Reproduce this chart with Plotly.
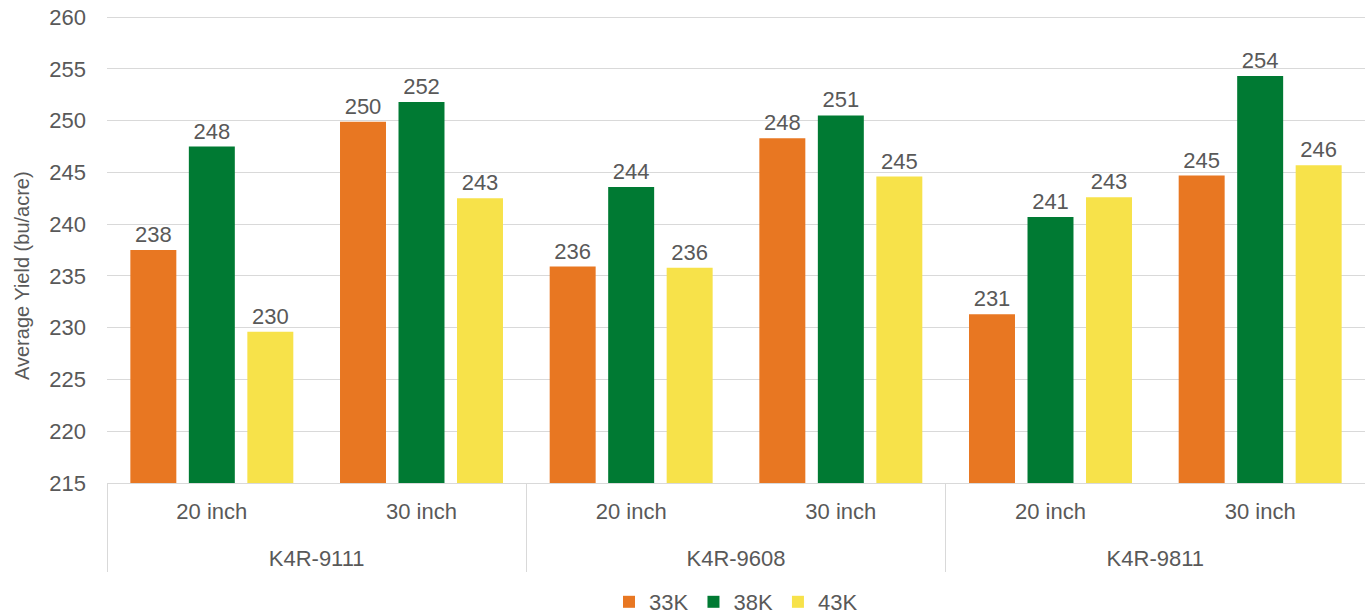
import plotly.graph_objects as go

hybrids = ["K4R-9111", "K4R-9111", "K4R-9608", "K4R-9608", "K4R-9811", "K4R-9811"]
spacing = ["20 inch", "30 inch", "20 inch", "30 inch", "20 inch", "30 inch"]
series_names = ["33K", "38K", "43K"]
y33 = [237.5, 249.9, 235.9, 248.3, 231.3, 244.7]
y38 = [247.5, 251.8, 243.6, 250.5, 240.7, 254.3]
y43 = [229.6, 242.5, 235.8, 244.6, 242.6, 245.7]
colors = ["#E87722", "#007A33", "#F7E24A"]

FS = 22
W, H = 1365, 615
# trailing blank line on the inner labels gives the outer level more room
spacing_lbl = [s + "<br> " for s in spacing]

fig = go.Figure()
for name, vals, col in zip(series_names, [y33, y38, y43], colors):
    fig.add_trace(go.Bar(
        x=[hybrids, spacing_lbl], y=vals, name=name,
        marker=dict(color=col, line=dict(width=0)),
        texttemplate="%{y:.0f}", textposition="outside",
        textfont=dict(size=FS, color="#595959"),
        cliponaxis=False,
    ))

fig.add_annotation(
    text="Average Yield (bu/acre)", textangle=-90,
    xref="paper", yref="paper", x=0, y=(483 - 276) / 469,
    xanchor="center", yanchor="middle", xshift=-85, showarrow=False,
    font=dict(size=20, color="#595959"),
)

fig.update_layout(
    width=W, height=H,
    margin=dict(l=107, r=0, t=14, b=132),
    paper_bgcolor="white", plot_bgcolor="white",
    font=dict(family="Liberation Sans, Arial, sans-serif", color="#595959", size=FS),
    barmode="group", bargap=0.163, bargroupgap=0.214,
    showlegend=True,
    legend=dict(orientation="h", x=0.5, xanchor="center", xref="paper",
                y=(H - 602) / H, yanchor="middle", yref="container", font=dict(size=FS),
                traceorder="normal", itemwidth=30),
    xaxis=dict(
        type="multicategory", automargin=False, showline=True, linecolor="#D9D9D9", linewidth=1,
        showdividers=True, dividercolor="#D9D9D9", dividerwidth=1,
        tickfont=dict(size=FS, color="#595959"), ticks="", ticklabelstandoff=9,
    ),
    yaxis=dict(
        automargin=False, ticklabeloverflow="allow",
        range=[215, 260.3], tick0=215, dtick=5, showgrid=True, gridcolor="#D9D9D9", gridwidth=1,
        zeroline=False, tickfont=dict(size=FS, color="#595959"),
        ticklabelstandoff=20,
    ),
)
fig.write_html("out.html", config={"displayModeBar": False},
               post_script="document.body.style.margin='0';")
